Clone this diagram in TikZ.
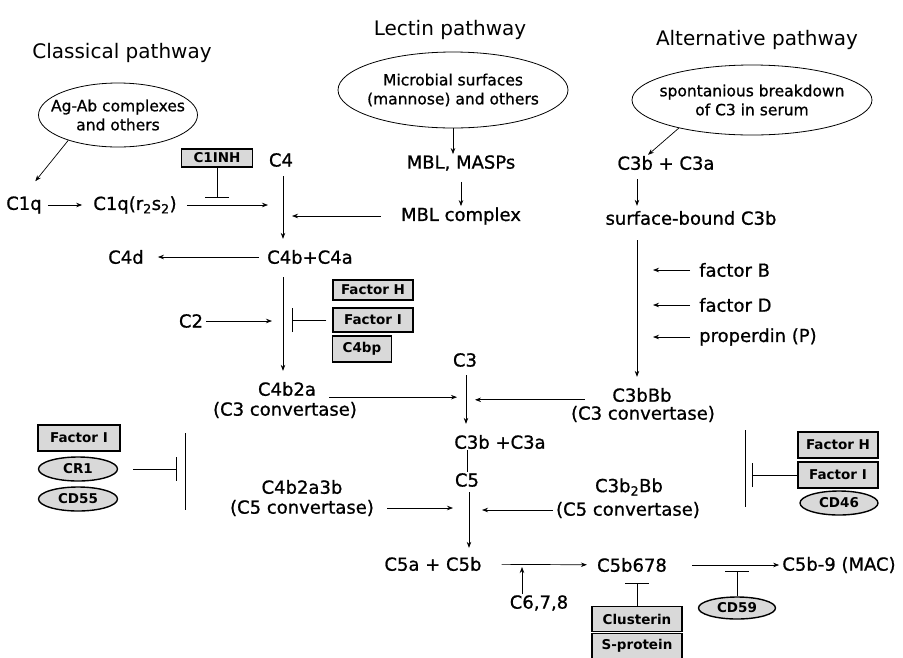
\documentclass[tikz,border=0pt]{standalone}
\usepackage{fontspec}
\setmainfont{DejaVu Sans}
\newfontfamily\heavy[FakeBold=0.9]{DejaVu Sans}
\usetikzlibrary{arrows.meta,shapes.geometric}

\tikzset{
  lbl/.style={font=\heavy\fontsize{18}{20}\selectfont, inner sep=1pt},
  ttl/.style={font=\fontsize{20}{22}\selectfont, inner sep=1pt},
  src/.style={draw, ellipse, line width=0.8pt},
  srctxt/.style={align=center, font=\heavy\fontsize{15.5}{19}\selectfont, inner sep=0pt},
  regbox/.style={draw, line width=1.4pt, fill=gray!30, inner sep=0pt, font=\bfseries\fontsize{13.5}{14}\selectfont},
  regell/.style={regbox, ellipse},
  arr/.style={-{Stealth[length=6pt,width=4.5pt]}, line width=0.7pt},
  inh/.style={-{Bar[width=24pt,line width=1pt]}, line width=0.8pt},
  stem/.style={line width=1pt},
}

\begin{document}
\begin{tikzpicture}[x=1pt,y=-1pt]
\useasboundingbox (0,0) rectangle (903,657);

% titles
\node[ttl] (tcl) at (122,53) {Classical pathway};
\node[ttl] (tle) at (450,30) {Lectin pathway};
\node[ttl] (tal) at (757,40) {Alternative pathway};

% activators
\node[src, minimum width=159pt, minimum height=64pt] (agab) at (118,115) {};
\node[srctxt] at (agab) {Ag-Ab complexes\\and others};
\node[src, minimum width=230pt, minimum height=76pt] (micro) at (453,90) {};
\node[srctxt] at (micro) {Microbial surfaces\\(mannose) and others};
\node[src, minimum width=240pt, minimum height=70pt] (spont) at (752,100) {};
\node[srctxt] at (spont) {spontanious breakdown\\of C3 in serum};

% classical pathway
\node[lbl] (c1q) at (24,205) {C1q};
\node[lbl] (c1qr) at (135,205) {C1q(r\textsubscript{2}s\textsubscript{2})};
\node[regbox, minimum width=71pt, minimum height=18pt] (c1inh) at (217,158) {C1INH};
\node[lbl] (c4) at (281,160) {C4};
\node[lbl] (c4b) at (310,257) {C4b+C4a};
\node[lbl] (c4d) at (126,257) {C4d};
\node[lbl] (c2) at (191,321) {C2};
\node[regbox, minimum width=80pt, minimum height=20pt] (fh1) at (373,290) {Factor H};
\node[regbox, minimum width=80pt, minimum height=24pt] (fi1) at (373,320) {Factor I};
\node[regbox, minimum width=59pt, minimum height=26pt] (c4bp) at (362,349) {C4bp};
\node[lbl] (c4b2a) at (287,389) {C4b2a};
\node[lbl] (cv1) at (285,410) {(C3 convertase)};
\node[lbl] (c4b2a3b) at (302,487) {C4b2a3b};
\node[lbl] (cv2) at (302,508) {(C5 convertase)};

% lectin pathway
\node[lbl] (masps) at (461,163) {MBL, MASPs};
\node[lbl] (mblc) at (461,216) {MBL complex};

% alternative pathway
\node[lbl] (c3ba) at (666,163) {C3b + C3a};
\node[lbl] (sbc3b) at (691,218) {surface-bound C3b};
\node[lbl, anchor=west] (fb) at (698,270) {factor B};
\node[lbl, anchor=west] (fd) at (698,305) {factor D};
\node[lbl, anchor=west] (fp) at (698,337) {properdin (P)};
\node[lbl] (c3bbb) at (642,395) {C3bBb};
\node[lbl] (cv3) at (643,414) {(C3 convertase)};
\node[lbl] (c3b2bb) at (629,487) {C3b\textsubscript{2}Bb};
\node[lbl] (cv4) at (628,510) {(C5 convertase)};

% common part
\node[lbl] (c3) at (465,360) {C3};
\node[lbl] (c3ab) at (500,442) {C3b +C3a};
\node[lbl] (c5) at (467,480) {C5};
\node[lbl] (c5ab) at (433,564) {C5a + C5b};
\node[lbl] (c678) at (539,603) {C6,7,8};
\node[lbl] (c5b678) at (632,565) {C5b678};
\node[lbl] (mac) at (839,565) {C5b-9 (MAC)};

% regulators
\node[regbox, minimum width=82pt, minimum height=26pt] (fi2) at (79,438) {Factor I};
\node[regell, minimum width=79pt, minimum height=24pt] (cr1) at (78,469) {CR1};
\node[regell, minimum width=79pt, minimum height=24pt] (cd55) at (78,499) {CD55};
\node[regbox, minimum width=80pt, minimum height=26pt] (fh3) at (838,445) {Factor H};
\node[regbox, minimum width=80pt, minimum height=26pt] (fi3) at (838,475) {Factor I};
\node[regell, minimum width=78pt, minimum height=24pt] (cd46) at (839,503) {CD46};
\node[regbox, minimum width=90pt, minimum height=25pt] (clus) at (637,619) {Clusterin};
\node[regbox, minimum width=90pt, minimum height=25pt] (sprot) at (637,646) {S-protein};
\node[regell, minimum width=77pt, minimum height=22pt] (cd59) at (737,608) {CD59};

% stems
\coordinate (k1) at (283,176);
\coordinate (k2) at (283,277);
\coordinate (k3) at (466,375);
\coordinate (k5) at (469,492);
\coordinate (k6) at (637,240);
\coordinate (lv1) at (185,433);
\coordinate (lv2) at (185,510);
\coordinate (rv1) at (745,430);
\coordinate (rv2) at (745,507);
\coordinate (t1) at ([xshift=15pt,yshift=5pt]cv3.north west);

\draw[arr, shorten >=18pt] (agab.207) -- (c1q.north);
\draw[arr] (micro.south) -- (micro.south |- masps.north);
\draw[arr] (spont.201) -- ([xshift=-18pt]c3ba.north);
\draw[arr, shorten <=10pt] (masps.south) -- (mblc.north);

\draw[arr, shorten <=5pt, shorten >=10pt] (c1q) -- (c1qr);
\draw[stem, arr, shorten >=10pt] (k1) -- (k1 |- c4b.north);
\draw[arr, shorten <=9pt, shorten >=15pt] (c1qr) -- (c1qr -| k1);
\draw[inh, shorten >=7pt] (c1inh) -- (c1inh |- c1qr);
\draw[arr, shorten <=19pt, shorten >=9pt] (mblc) -- (mblc -| k1);
\draw[arr, shorten <=7pt, shorten >=13pt] (c4b) -- (c4d);
\draw[stem, arr, shorten >=10pt] (k2) -- (k2 |- c4b2a.north);
\draw[arr, shorten <=2pt, shorten >=11pt] (c2) -- (c2 -| k2);
\draw[inh, shorten <=6pt, shorten >=9pt] (fi1) -- (fi1 -| k2);

\draw[stem, arr, shorten >=10pt] (k3) -- (k3 |- c3ab.north);
\draw[arr, shorten <=12pt, shorten >=9pt] (c4b2a.south east) -- (c4b2a.south east -| k3);
\draw[arr, shorten >=9pt] (t1) -- (t1 -| k3);
\draw[stem, line width=0.6pt] (c3ab.south -| c5) -- (c5.north);
\draw[stem, arr, shorten >=8pt] (k5) -- (k5 |- c5ab.north);
\draw[arr, shorten <=12pt, shorten >=16pt] (cv2.east) -- (cv2.east -| k5);
\draw[arr, shorten <=2pt, shorten >=13pt] (cv4.west) -- (cv4.west -| k5);

\draw[arr, shorten <=8pt, shorten >=4pt] (c3ba.south -| k6) -- (sbc3b.north -| k6);
\draw[stem, arr, shorten >=10pt] (k6) -- (k6 |- c3bbb.north);
\draw[arr, shorten <=8pt, shorten >=16pt] (fb.west) -- (fb.west -| k6);
\draw[arr, shorten <=8pt, shorten >=16pt] (fd.west) -- (fd.west -| k6);
\draw[arr, shorten <=8pt, shorten >=16pt] (fp.west) -- (fp.west -| k6);

\draw[stem] (lv1) -- (lv2);
\draw[inh, shorten <=15pt, shorten >=8pt] (cr1.east) -- (cr1.east -| lv1);
\draw[stem] (rv1) -- (rv2);
\draw[inh, shorten >=7pt] (fi3.west) -- (fi3.west -| rv1);

\draw[arr, shorten <=19pt, shorten >=9pt] (c5ab) -- (c5b678);
\draw[arr, shorten >=3pt] ([xshift=-17pt]c678.north) -- ([xshift=-17pt]c678.north |- c5ab);
\draw[inh, shorten >=18pt] (clus) -- (clus |- c5b678);
\draw[arr, shorten <=24pt, shorten >=2pt] (c5b678) -- (mac);
\draw[inh, shorten >=6pt] (cd59) -- (cd59 |- mac);
\end{tikzpicture}
\end{document}
